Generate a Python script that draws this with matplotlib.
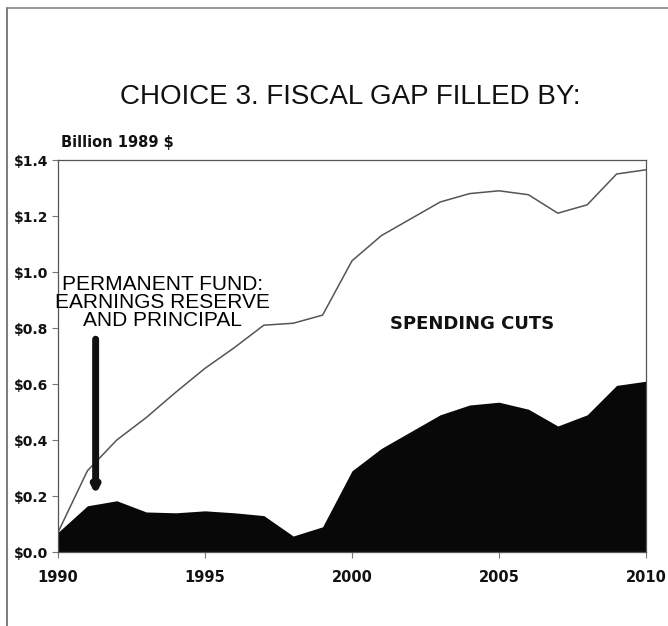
import matplotlib as mpl
mpl.use('Agg')
import matplotlib.pyplot as plt
from matplotlib.lines import Line2D

years = list(range(1990, 2011))
# total fiscal gap (billion 1989 $)
gap_total = [0.07, 0.29, 0.40, 0.48, 0.57, 0.656, 0.73, 0.81, 0.817, 0.846,
             1.04, 1.13, 1.19, 1.25, 1.28, 1.29, 1.276, 1.21, 1.24, 1.35, 1.365]
# part filled by permanent fund
perm_fund = [0.07, 0.165, 0.183, 0.143, 0.14, 0.147, 0.14, 0.13, 0.057, 0.09,
             0.29, 0.37, 0.43, 0.49, 0.525, 0.535, 0.51, 0.45, 0.49, 0.595, 0.61]
y_ticks = [0.0, 0.2, 0.4, 0.6, 0.8, 1.0, 1.2, 1.4]
x_ticks = [1990, 1995, 2000, 2005, 2010]

plt.rcParams['font.family'] = ['Liberation Sans', 'DejaVu Sans']
BOLD_WIDE = ['DejaVu Sans']

fig = plt.figure(figsize=(6.68, 6.26), dpi=100)
ax = fig.add_axes([58 / 668, 74 / 626, 588 / 668, 392 / 626])

ax.fill_between(years, 0, perm_fund, color='#080808', lw=0)
ax.plot(years, gap_total, color='#555555', lw=1.1)

ax.set_xlim(1990, 2010)
ax.set_ylim(0, 1.4)
ax.set_yticks(y_ticks)
ax.set_yticklabels(['$%.1f' % v for v in y_ticks], fontsize=10,
                   fontweight='bold', family=BOLD_WIDE, color='#111111')
ax.set_xticks(x_ticks)
ax.set_xticklabels([str(v) for v in x_ticks], fontsize=10.5,
                   fontweight='bold', family=BOLD_WIDE, color='#111111')
ax.tick_params(axis='both', direction='out', length=4, width=0.8, color='#777777')
ax.tick_params(axis='x', pad=9)
ax.tick_params(axis='y', pad=3)
for s in ax.spines.values():
    s.set_color('#555555')
    s.set_linewidth(0.9)

ax.text(1993.55, 0.89, 'PERMANENT FUND:\nEARNINGS RESERVE\nAND PRINCIPAL',
        ha='center', va='center', fontsize=15, linespacing=0.93, color='#000000')
ax.annotate('', xy=(1991.28, 0.195), xytext=(1991.28, 0.77),
            arrowprops=dict(arrowstyle='-|>,head_width=0.18,head_length=0.35',
                            lw=5, color='#111111'))
ax.text(2004.1, 0.815, 'SPENDING CUTS', ha='center', va='center',
        fontsize=13, fontweight='bold', family=BOLD_WIDE, color='#111111')

fig.text(350 / 668, 1 - 97 / 626, 'CHOICE 3. FISCAL GAP FILLED BY:',
         ha='center', va='center', fontsize=20, color='#111111')
fig.text(61 / 668, 1 - 143 / 626, 'Billion 1989 $', ha='left', va='center',
         fontsize=10.5, fontweight='bold', family=BOLD_WIDE, color='#111111')

# scanned frame around the graphic
fig.add_artist(Line2D([7 / 668, 7 / 668], [0, 1 - 8 / 626], transform=fig.transFigure,
                      color='#666666', lw=1.2))
fig.add_artist(Line2D([7 / 668, 1], [1 - 8 / 626, 1 - 8 / 626], transform=fig.transFigure,
                      color='#888888', lw=1.2))

fig.savefig('out.png', dpi=100)
plt.close(fig)
